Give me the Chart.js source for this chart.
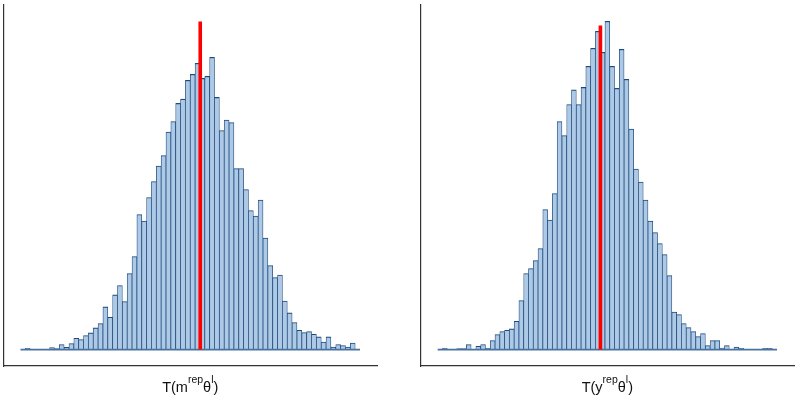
<!DOCTYPE html>
<html><head><meta charset="utf-8">
<script src="https://cdn.jsdelivr.net/npm/chart.js@4.4.1/dist/chart.umd.min.js"></script>
<style>
html,body{margin:0;padding:0;background:#fff;}
#wrap{position:relative;width:800px;height:398px;overflow:hidden;}
.panel{position:absolute;top:0;width:400px;height:398px;}
canvas{display:block;}
</style></head><body>
<div id="wrap">
<div class="panel" style="left:0"><canvas id="c1" width="400" height="398"></canvas></div>
<div class="panel" style="left:400px"><canvas id="c2" width="400" height="398"></canvas></div>
</div>
<script>
// Histogram bin heights (bin index = position along the statistic's axis)
const leftCounts = [0,1.3,0,0,0,0,2,1,5,2.3,6,11.3,10,14,16.7,21.7,26,42.7,32.3,54.7,64,48,76,93,135,128.5,152,168,183.5,194,217.5,228,246,250.3,269,275,286,271,273,292,252,219,229.5,227,181,181,160,139,133.5,149.5,111.5,84,72,74.5,48.5,36.7,27,19.3,17,18,15.3,12.7,7.6,12.7,2.5,5,4,2.5,6.5,0];
const rightCounts = [0,1.3,0,0,1,1,5,0,3.3,5,1.3,9,15,18,19.3,20.7,28.3,49,76,81,89,101,140,129.5,156,228,214,245,259.5,245,262,283,301,318,297,328,283,261,300,270,220.5,180.5,167.5,149.5,128.5,117,106,95,74,37.5,35,26,22,18,13,16,4,9,9,1.5,4,0,2.5,1.3,0,0,0,0,1.3,1.3,0];
// Observed statistic (red segment): position in bin units and its height
const leftObserved = [37.06, 327.8];
const rightObserved = [34.05, 324];
// Axis titles (pieces; superscript flags)
const leftLabelParts = ['T(m','rep','θ','l',')'];
const rightLabelParts = ['T(y','rep','θ','l',')'];
const superscriptFlags = [false,true,false,true,false];

const FILL = '#adc9e6', EDGE = '#1d4a7b', AXIS = '#333333';
const FONT = "'Liberation Sans', Arial, sans-serif";

function labelPlugin(parts){
  return {
    id:'xlabel',
    afterDraw(chart){
      const {ctx, chartArea} = chart;
      const cx = (chartArea.left + chartArea.right)/2;
      const widths = parts.map((p,i)=>{ctx.font = (superscriptFlags[i]?'10.5px ':'14.5px ')+FONT; return ctx.measureText(p).width;});
      const total = widths.reduce((a,b)=>a+b,0);
      let x = cx - total/2;
      ctx.save();
      ctx.fillStyle = '#111';
      ctx.textBaseline = 'alphabetic';
      parts.forEach((p,i)=>{
        const sup = superscriptFlags[i];
        ctx.font = (sup?'10.5px ':'14.5px ')+FONT;
        ctx.fillText(p, x, chartArea.bottom + (sup?17:25.5));
        x += widths[i];
      });
      ctx.restore();
    }
  };
}

function makeChart(id, counts, observed, parts, pad){
  const n = counts.length;
  const ex = n*0.05;
  const yMax = 328, yEx = yMax*0.05;
  const axisOpts = (min,max)=>({
    type:'linear', min, max, offset:false,
    grid:{display:false, drawTicks:false},
    ticks:{display:false},
    border:{display:true, color:AXIS, width:1.2}
  });
  return new Chart(document.getElementById(id), {
    type:'bar',
    data:{datasets:[
      {type:'line', data:[{x:observed[0],y:0},{x:observed[0],y:observed[1]}], borderColor:'#ff0000', borderWidth:3.6, pointRadius:0, order:1},
      {type:'line', data:[{x:0,y:0},{x:n,y:0}], borderColor:'#4a72a0', borderWidth:1.6, pointRadius:0, order:2},
      {type:'bar', data:counts.map((v,i)=>({x:i+0.5,y:v})), backgroundColor:FILL, borderColor:EDGE,
       borderWidth:{top:1.1,left:0.75,right:0.75,bottom:0}, borderSkipped:false,
       barPercentage:1, categoryPercentage:1, grouped:false, order:3}
    ]},
    options:{
      responsive:false, animation:false, devicePixelRatio:1,
      layout:{padding:pad},
      plugins:{legend:{display:false}, tooltip:{enabled:false}},
      scales:{x:axisOpts(-ex, n+ex), y:axisOpts(-yEx, yMax+yEx)}
    },
    plugins:[labelPlugin(parts)]
  });
}

makeChart('c1', leftCounts, leftObserved, leftLabelParts, {left:3.5, right:23, top:5, bottom:32});
makeChart('c2', rightCounts, rightObserved, rightLabelParts, {left:20.7, right:6, top:5, bottom:32});
</script>
</body></html>
